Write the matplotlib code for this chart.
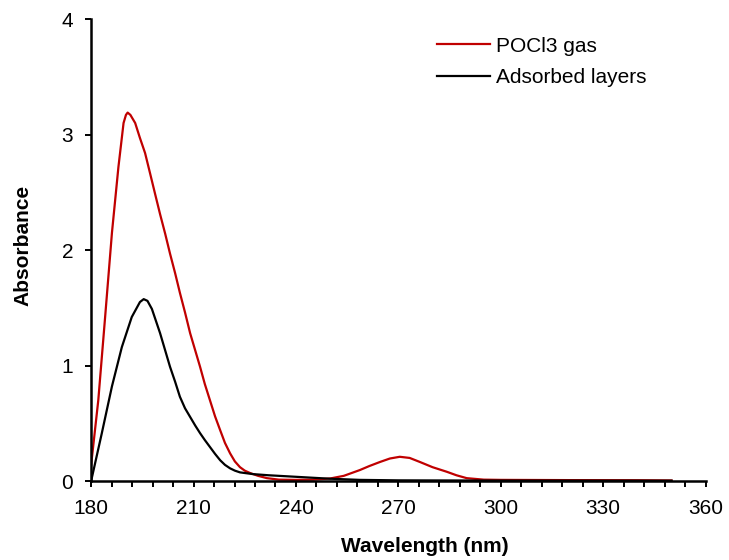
import numpy as np
import matplotlib.pyplot as plt
from matplotlib.ticker import MultipleLocator

# values
wl_gas = [180, 182.1, 184.1, 186.1, 188.0, 189.5, 190.2, 190.7, 191.5, 192.9, 194.3,
          195.8, 197.3, 198.7, 200.2, 201.7, 203.1, 204.6, 206, 207.5, 209, 210.5,
          211.9, 213.3, 214.8, 216.3, 217.8, 219.2, 220.7, 222.1, 223.6, 225,
          226.5, 228.9, 231.5, 235, 240, 245, 250, 254, 258.7, 261.5,
          264.6, 267.5, 270.4, 273.3, 276.3, 280, 284.2, 287, 290, 295, 300,
          320, 340, 350]
abs_gas = [0.14, 0.70, 1.42, 2.15, 2.72, 3.1, 3.17, 3.19, 3.17, 3.1, 2.97,
           2.84, 2.66, 2.49, 2.31, 2.14, 1.97, 1.80, 1.63, 1.46, 1.28, 1.13,
           0.99, 0.84, 0.70, 0.56, 0.44, 0.33, 0.24, 0.17, 0.12, 0.09,
           0.07, 0.045, 0.025, 0.012, 0.01, 0.012, 0.022, 0.045, 0.095, 0.13,
           0.165, 0.195, 0.21, 0.2, 0.165, 0.12, 0.08, 0.05, 0.025, 0.012, 0.01,
           0.008, 0.007, 0.005]

wl_ads = [180, 183.1, 186.1, 189, 191.9, 194.3, 195.4, 196.5, 197.8, 200.2,
          201.7, 203.1, 204.6, 206, 207.5, 209, 210.5, 211.9, 213.3, 214.8,
          216.3, 217.8, 219.2, 220.7, 222.1, 223.6, 227.4, 232, 241, 250,
          258.7, 270, 300, 350]
abs_ads = [0.0, 0.41, 0.82, 1.16, 1.42, 1.55, 1.575, 1.56, 1.49, 1.28,
           1.13, 0.99, 0.86, 0.73, 0.63, 0.555, 0.48, 0.415, 0.355, 0.295,
           0.235, 0.18, 0.14, 0.11, 0.09, 0.075, 0.06, 0.05, 0.035, 0.02,
           0.01, 0.006, 0.004, 0.003]

plt.rcParams['font.family'] = ['Liberation Sans', 'DejaVu Sans']

fig = plt.figure(figsize=(7.29, 5.6), dpi=100)
ax = fig.add_axes([0.125, 0.141, 0.843, 0.825])

ax.plot(wl_gas, abs_gas, color='#c00000', lw=1.6, label='POCl3 gas')
ax.plot(wl_ads, abs_ads, color='black', lw=1.6, label='Adsorbed layers')

ax.set_xlim(180, 360)
ax.set_ylim(0, 4)
ax.xaxis.set_major_locator(MultipleLocator(30))
ax.xaxis.set_minor_locator(MultipleLocator(6))
ax.yaxis.set_major_locator(MultipleLocator(1))
ax.tick_params(which='major', direction='out', length=4, width=1.4,
               labelsize=15, pad=9)
ax.tick_params(which='minor', direction='out', length=4, width=1.4)

for side in ['top', 'right']:
    ax.spines[side].set_visible(False)
for side in ['left', 'bottom']:
    ax.spines[side].set_linewidth(1.8)

ax.set_xlabel('Wavelength (nm)', fontsize=15, fontweight='bold')
ax.xaxis.set_label_coords(0.543, -0.121)
ax.set_ylabel('Absorbance', fontsize=15, fontweight='bold')
ax.yaxis.set_label_coords(-0.095, 0.511)

ax.legend(loc='upper left', bbox_to_anchor=(0.563, 0.962), frameon=False,
          borderaxespad=0, borderpad=0, fontsize=15, handlelength=2.55,
          handletextpad=0.3, labelspacing=0.6)

fig.savefig('out.png', dpi=100)
